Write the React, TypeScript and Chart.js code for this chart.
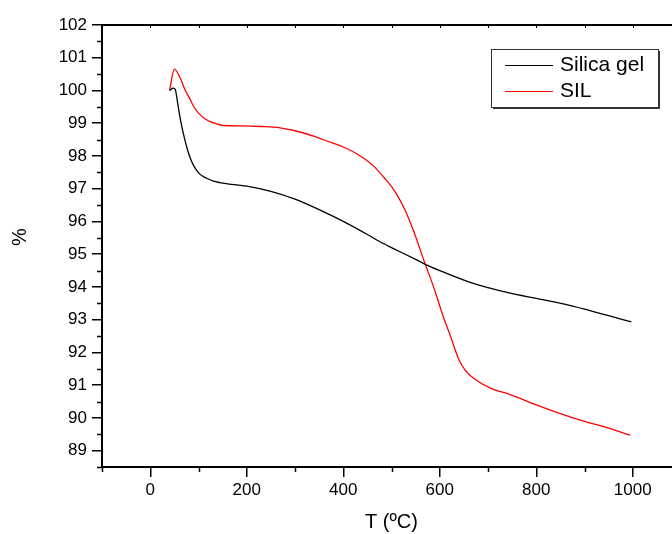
import React, { useEffect, useRef } from 'react';
import { Chart, registerables } from 'chart.js';

Chart.register(...registerables);

const silicaT = [40, 48, 52, 57, 62, 70, 78, 86, 95, 104, 117, 131, 160, 200, 250, 300, 350, 400, 450, 476, 500, 550, 570, 600, 663, 700, 746, 800, 856, 900, 950, 997];
const silicaPct = [100.0, 100.07, 100.02, 99.6, 99.15, 98.6, 98.15, 97.82, 97.58, 97.43, 97.32, 97.23, 97.15, 97.08, 96.92, 96.68, 96.36, 96.0, 95.6, 95.38, 95.2, 94.84, 94.69, 94.5, 94.14, 93.98, 93.81, 93.65, 93.48, 93.32, 93.12, 92.93];

const silT = [40, 50, 62, 72, 83, 90, 100, 114, 131, 152, 190, 230, 269, 300, 340, 373, 404, 442, 463, 484, 501, 515, 528, 546, 570, 587, 609, 622, 639, 653, 670, 705, 746, 800, 856, 900, 950, 995];
const silPct = [100.0, 100.65, 100.38, 100.02, 99.72, 99.51, 99.31, 99.13, 99.01, 98.93, 98.92, 98.9, 98.86, 98.77, 98.6, 98.42, 98.25, 97.94, 97.69, 97.35, 97.05, 96.72, 96.35, 95.7, 94.69, 94.01, 93.02, 92.51, 91.8, 91.45, 91.21, 90.91, 90.71, 90.4, 90.1, 89.89, 89.69, 89.47];

const seriesNames = ['Silica gel', 'SIL'];
const seriesColors = ['#000000', '#ff0000'];

const xMajorTicks = [0, 200, 400, 600, 800, 1000];
const xMinorTicks = [-100, 100, 300, 500, 700, 900, 1100];
const yMajorTicks = [89, 90, 91, 92, 93, 94, 95, 96, 97, 98, 99, 100, 101, 102];
const yMinorTicks = [88.5, 89.5, 90.5, 91.5, 92.5, 93.5, 94.5, 95.5, 96.5, 97.5, 98.5, 99.5, 100.5, 101.5];

const xTitle = 'T (ºC)';
const yTitle = '%';

const FONT = '"Liberation Sans", Arial, sans-serif';

const decorPlugin = {
  id: 'decor',
  afterDraw(chart: any) {
    const ctx = chart.ctx;
    const area = chart.chartArea;
    const xs = chart.scales.x;
    const ys = chart.scales.y;
    ctx.save();
    ctx.strokeStyle = '#000';
    // minor ticks
    ctx.lineWidth = 1.5;
    ctx.beginPath();
    for (const v of yMinorTicks) {
      const py = Math.round(ys.getPixelForValue(v)) + 0.5;
      ctx.moveTo(area.left - 5, py);
      ctx.lineTo(area.left, py);
    }
    for (const v of xMinorTicks) {
      const px = Math.round(xs.getPixelForValue(v)) + 0.5;
      ctx.moveTo(px, area.bottom);
      ctx.lineTo(px, area.bottom + 5);
    }
    ctx.stroke();
    // top and right border with small inward ticks
    ctx.lineWidth = 2;
    ctx.beginPath();
    ctx.moveTo(area.left, area.top);
    ctx.lineTo(area.right, area.top);
    ctx.moveTo(area.right, area.top);
    ctx.lineTo(area.right, area.bottom);
    ctx.stroke();
    ctx.lineWidth = 1;
    ctx.beginPath();
    for (const v of [...xMajorTicks, ...xMinorTicks]) {
      const px = Math.round(xs.getPixelForValue(v)) + 0.5;
      ctx.moveTo(px, area.top);
      ctx.lineTo(px, area.top + 3);
    }
    ctx.stroke();

    // axis titles
    ctx.fillStyle = '#000';
    ctx.font = `20px ${FONT}`;
    ctx.textAlign = 'center';
    ctx.textBaseline = 'middle';
    ctx.fillText(xTitle, (area.left + area.right) / 2, 522);
    ctx.save();
    ctx.translate(20, 237);
    ctx.rotate(-Math.PI / 2);
    ctx.fillText(yTitle, 0, 0);
    ctx.restore();

    // legend
    const bx = 491, by = 49, bw = 167, bh = 58;
    ctx.fillStyle = '#fff';
    ctx.fillRect(bx, by, bw, bh);
    ctx.strokeStyle = '#333';
    ctx.lineWidth = 1;
    ctx.strokeRect(bx + 0.5, by + 0.5, bw, bh);
    ctx.beginPath();
    ctx.moveTo(bx + bw + 1.5, by + 2);
    ctx.lineTo(bx + bw + 1.5, by + bh + 1.5);
    ctx.lineTo(bx + 2, by + bh + 1.5);
    ctx.stroke();
    const rows = [65.5, 91.5];
    chart.data.datasets.forEach((ds: any, i: number) => {
      ctx.strokeStyle = ds.borderColor;
      ctx.lineWidth = 1.2;
      ctx.beginPath();
      ctx.moveTo(505, rows[i]);
      ctx.lineTo(553, rows[i]);
      ctx.stroke();
      ctx.fillStyle = '#000';
      ctx.font = `21px ${FONT}`;
      ctx.textAlign = 'left';
      ctx.textBaseline = 'middle';
      ctx.fillText(ds.label, 560, rows[i]);
    });
    ctx.restore();
  },
};

export default function App() {
  const ref = useRef<HTMLCanvasElement | null>(null);
  useEffect(() => {
    if (!ref.current) return;
    const chart = new Chart(ref.current, {
      type: 'scatter',
      data: {
        datasets: [
          {
            label: seriesNames[0],
            data: silicaT.map((t, i) => ({ x: t, y: silicaPct[i] })),
            borderColor: seriesColors[0],
            backgroundColor: seriesColors[0],
            borderWidth: 1.3,
            showLine: true,
            pointRadius: 0,
            cubicInterpolationMode: 'monotone',
          },
          {
            label: seriesNames[1],
            data: silT.map((t, i) => ({ x: t, y: silPct[i] })),
            borderColor: seriesColors[1],
            backgroundColor: seriesColors[1],
            borderWidth: 1.3,
            showLine: true,
            pointRadius: 0,
            cubicInterpolationMode: 'monotone',
          },
        ],
      },
      options: {
        animation: false,
        responsive: false,
        devicePixelRatio: 1,
        layout: { padding: { left: 0, top: 25, right: 19, bottom: 0 } },
        plugins: {
          legend: { display: false },
          tooltip: { enabled: false },
        },
        scales: {
          x: {
            type: 'linear',
            min: -100,
            max: 1100,
            afterBuildTicks: (s: any) => {
              s.ticks = xMajorTicks.map((v) => ({ value: v }));
            },
            afterFit: (s: any) => {
              s.height = 67;
            },
            grid: {
              drawOnChartArea: false,
              drawTicks: true,
              tickLength: 10,
              color: '#000',
              lineWidth: 1.5,
            },
            border: { display: true, color: '#000', width: 2 },
            ticks: {
              color: '#000',
              padding: 3,
              maxRotation: 0,
              autoSkip: false,
              font: { family: FONT, size: 17 },
              callback: (v: any) => String(v),
            },
          },
          y: {
            type: 'linear',
            min: 88.5,
            max: 102,
            afterBuildTicks: (s: any) => {
              s.ticks = yMajorTicks.map((v) => ({ value: v }));
            },
            afterFit: (s: any) => {
              s.width = 102;
            },
            grid: {
              drawOnChartArea: false,
              drawTicks: true,
              tickLength: 10,
              color: '#000',
              lineWidth: 1.5,
            },
            border: { display: true, color: '#000', width: 2 },
            ticks: {
              color: '#000',
              padding: 5,
              autoSkip: false,
              font: { family: FONT, size: 17 },
              callback: (v: any) => String(v),
            },
          },
        },
      },
      plugins: [decorPlugin],
    } as any);
    return () => chart.destroy();
  }, []);

  return (
    <div
      style={{
        position: 'fixed',
        left: 0,
        top: 0,
        width: 672,
        height: 534,
        overflow: 'hidden',
        background: '#fff',
      }}
    >
      <canvas ref={ref} width={700} height={534} style={{ width: 700, height: 534, display: 'block' }} />
    </div>
  );
}
